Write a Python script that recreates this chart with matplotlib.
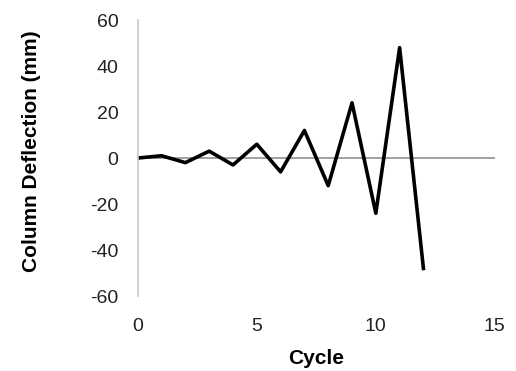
import matplotlib
matplotlib.use('Agg')
import matplotlib.pyplot as plt

cycle = [0, 1, 2, 3, 4, 5, 6, 7, 8, 9, 10, 11, 12]
deflection = [0, 1, -2, 3, -3, 6, -6, 12, -12, 24, -24, 48, -48]

plt.rcParams['font.family'] = ['Liberation Sans', 'DejaVu Sans']
plt.rcParams['axes.unicode_minus'] = False

fig = plt.figure(figsize=(5.16, 3.71), dpi=100)
ax = fig.add_axes([0.267, 0.202, 0.692, 0.744])

ax.axhline(0, color='#a0a0a0', lw=1.4, zorder=1)
ax.plot(cycle, deflection, color='black', lw=2.6, zorder=2)

ax.set_xlim(0, 15)
ax.set_ylim(-60, 60)
ax.set_xticks([0, 5, 10, 15])
ax.set_yticks([-60, -40, -20, 0, 20, 40, 60])

for s in ['top', 'right', 'bottom']:
    ax.spines[s].set_visible(False)
ax.spines['left'].set_color('#c8c8c8')
ax.spines['left'].set_linewidth(1.2)

ax.tick_params(axis='both', length=0, labelsize=14, colors='#222222')
ax.tick_params(axis='y', pad=14)
ax.tick_params(axis='x', pad=16)

ax.set_xlabel('Cycle', fontsize=15, fontweight='bold', labelpad=10)
ax.set_ylabel('Column Deflection (mm)', fontsize=15, fontweight='bold')
ax.yaxis.set_label_coords(-0.27, 0.525)

fig.savefig('out.png', dpi=100)
